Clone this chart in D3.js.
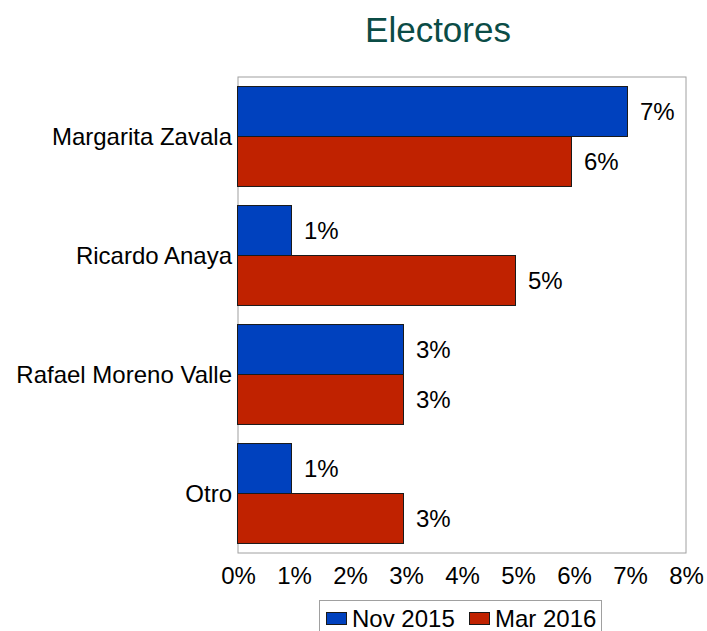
<!DOCTYPE html>
<html><head><meta charset="utf-8">
<script src="https://cdn.jsdelivr.net/npm/d3@7"></script>
<style>body{margin:0;background:#fff}svg{display:block;font-family:"Liberation Sans",Arial,sans-serif}</style>
</head><body>
<svg id="c" width="707" height="631"></svg>
<script>
const categories = ["Margarita Zavala", "Ricardo Anaya", "Rafael Moreno Valle", "Otro"];
const seriesNames = ["Nov 2015", "Mar 2016"];
const nov2015 = [7, 1, 3, 1];
const mar2016 = [6, 5, 3, 3];
const xTicks = [0, 1, 2, 3, 4, 5, 6, 7, 8];
const colors = ["#0041be", "#c02200"];
const title = "Electores";

const svg = d3.select("#c");
const L = 238, R = 686, T = 77, B = 553;
const FS = 24;
const x = d3.scaleLinear().domain([0, 8]).range([L, R]);
const y = d3.scaleBand().domain(categories).range([T, B]).paddingInner(0.16).paddingOuter(0.08);
const ys = d3.scaleBand().domain(seriesNames).range([0, y.bandwidth()]);
const seriesVals = [nov2015, mar2016];

svg.append("text").attr("x", 438).attr("y", 42).attr("text-anchor", "middle")
  .attr("font-size", 35).attr("fill", "#0b4c46").text(title);

svg.append("rect").attr("x", L).attr("y", T).attr("width", R - L).attr("height", B - T)
  .attr("fill", "none").attr("stroke", "#a0a0a0").attr("stroke-width", 1);

categories.forEach((c, i) => {
  seriesNames.forEach((s, j) => {
    const v = seriesVals[j][i];
    const by = y(c) + ys(s);
    svg.append("rect").attr("x", x(0) - 0.5).attr("y", by).attr("width", x(v) - x(0) - 2)
      .attr("height", ys.bandwidth()).attr("fill", colors[j]).attr("stroke", "#1a1a1a").attr("stroke-width", 1);
    svg.append("text").attr("x", x(v) + 10).attr("y", by + ys.bandwidth() / 2).attr("dy", "0.35em")
      .attr("font-size", FS).attr("fill", "#000").text(v + "%");
  });
  svg.append("text").attr("x", 232).attr("y", y(c) + y.bandwidth() / 2).attr("dy", "0.35em")
    .attr("text-anchor", "end").attr("font-size", FS).attr("fill", "#000").text(c);
});

const xAxis = d3.axisBottom(x).tickValues(xTicks).tickFormat(d => d + "%").tickSize(0).tickPadding(0);
const gx = svg.append("g").attr("transform", `translate(0,${B})`).call(xAxis);
gx.select(".domain").remove();
gx.selectAll("text").attr("font-size", FS).attr("fill", "#000")
  .attr("font-family", "Liberation Sans, Arial, sans-serif").attr("y", 31).attr("dy", 0);

// legend
const lg = svg.append("g");
lg.append("rect").attr("x", 319.5).attr("y", 600.5).attr("width", 282).attr("height", 40)
  .attr("fill", "#fff").attr("stroke", "#a0a0a0");
const legX = [326, 469];
seriesNames.forEach((s, j) => {
  lg.append("rect").attr("x", legX[j] + 0.5).attr("y", 612.5).attr("width", 20).attr("height", 12)
    .attr("fill", colors[j]).attr("stroke", "#1a1a1a");
  lg.append("text").attr("x", legX[j] + 26).attr("y", 627).attr("font-size", FS).attr("fill", "#000").text(s);
});
</script>
</body></html>
